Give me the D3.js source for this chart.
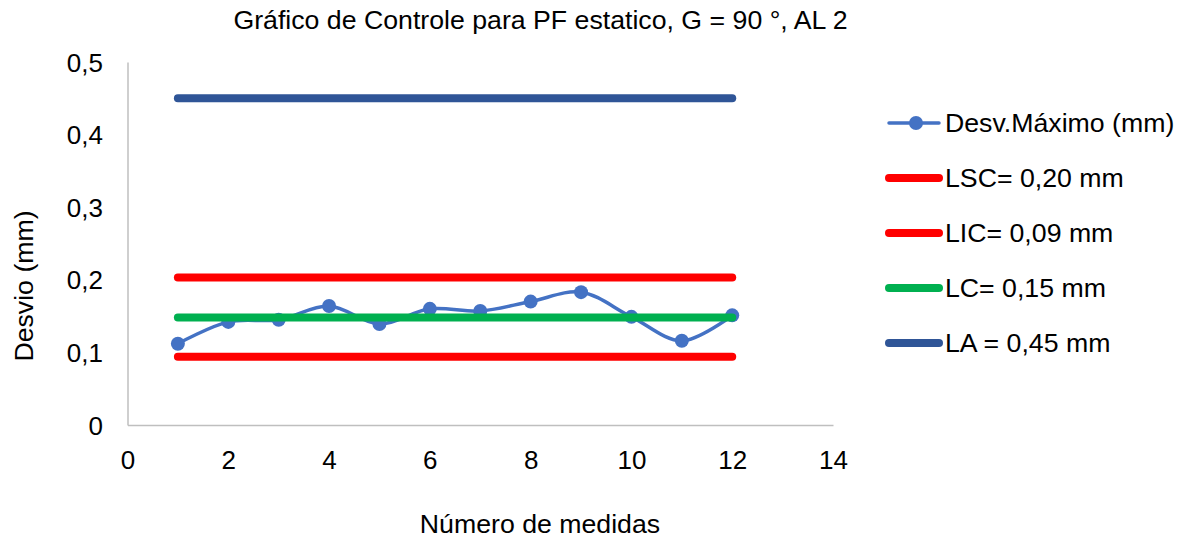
<!DOCTYPE html>
<html>
<head>
<meta charset="utf-8">
<script src="https://cdn.jsdelivr.net/npm/d3@7"></script>
<style>
  html, body { margin: 0; padding: 0; background: #fff; }
  svg { display: block; font-family: "Liberation Sans", Arial, sans-serif; }
</style>
</head>
<body>
<svg id="chart" width="1194" height="540"></svg>
<script>
// ---- data ----
const medidas = [1, 2, 3, 4, 5, 6, 7, 8, 9, 10, 11, 12];
const desvMaximo = [0.112, 0.142, 0.145, 0.164, 0.139, 0.160, 0.157, 0.170, 0.183, 0.149, 0.116, 0.151];
const limitNames = ["LSC= 0,20 mm", "LIC= 0,09 mm", "LC= 0,15 mm", "LA = 0,45 mm"];
const limitValues = [0.203, 0.094, 0.148, 0.45];
const limitColors = ["#FF0000", "#FF0000", "#00B050", "#2F5597"];
const seriesName = "Desv.Máximo (mm)";
const xTicks = [0, 2, 4, 6, 8, 10, 12, 14];
const yTicks = [0, 0.1, 0.2, 0.3, 0.4, 0.5];
const titleText = "Gráfico de Controle para PF estatico, G = 90 °, AL 2";
const xTitle = "Número de medidas";
const yTitle = "Desvio (mm)";

// ---- layout ----
const svg = d3.select("#chart");
const x = d3.scaleLinear().domain([0, 14]).range([127.5, 833]);
const y = d3.scaleLinear().domain([0, 0.5]).range([425, 62]);
const fontSize = 26.7;
const tickSize = 26;
const blue = "#4472C4";

// title
svg.append("text").attr("x", 540.5).attr("y", 29).attr("text-anchor", "middle")
  .attr("font-size", fontSize).attr("fill", "#000").text(titleText);

// axes
const yAxis = d3.axisLeft(y).tickValues(yTicks).tickSize(0)
  .tickFormat(d => d === 0 ? "0" : d3.format(".1f")(d).replace(".", ","));
const gy = svg.append("g").attr("transform", `translate(${x(0)},0)`).call(yAxis);
gy.select(".domain").attr("stroke", "#BFBFBF").attr("stroke-width", 1.5);
gy.selectAll(".tick text").attr("font-size", tickSize).attr("font-family", null)
  .attr("fill", "#000").attr("x", -24.5).attr("dy", "0.35em");

const xAxis = d3.axisBottom(x).tickValues(xTicks).tickSize(0).tickFormat(d3.format("d"));
const gx = svg.append("g").attr("transform", `translate(0,${y(0)})`).call(xAxis);
gx.select(".domain").attr("stroke", "#BFBFBF").attr("stroke-width", 1.5);
gx.selectAll(".tick text").attr("font-size", tickSize).attr("font-family", null)
  .attr("fill", "#000").attr("y", 44).attr("dy", 0);

// axis titles
svg.append("text").attr("x", 540).attr("y", 533).attr("text-anchor", "middle")
  .attr("font-size", fontSize).attr("fill", "#000").text(xTitle);
svg.append("text").attr("transform", "translate(33,286) rotate(-90)")
  .attr("text-anchor", "middle").attr("font-size", fontSize).attr("fill", "#000").text(yTitle);

// data series (smoothed)
const pts = medidas.map((m, i) => [m, desvMaximo[i]]);
const line = d3.line().x(d => x(d[0])).y(d => y(d[1])).curve(d3.curveCatmullRom.alpha(0.5));
svg.append("path").attr("d", line(pts)).attr("fill", "none")
  .attr("stroke", blue).attr("stroke-width", 3.5).attr("stroke-linejoin", "round");
svg.append("g").selectAll("circle").data(pts).join("circle")
  .attr("cx", d => x(d[0])).attr("cy", d => y(d[1])).attr("r", 7).attr("fill", blue);

// limit lines
limitValues.forEach((v, i) => {
  svg.append("line")
    .attr("x1", x(medidas[0])).attr("x2", x(medidas[medidas.length - 1]))
    .attr("y1", y(v)).attr("y2", y(v))
    .attr("stroke", limitColors[i]).attr("stroke-width", 8).attr("stroke-linecap", "round");
});

// legend
const legY = [123, 178, 233, 288, 343];
const lx1 = 889, lx2 = 939, tx = 945;
const lg = svg.append("g");
lg.append("line").attr("x1", lx1).attr("x2", lx2).attr("y1", legY[0]).attr("y2", legY[0])
  .attr("stroke", blue).attr("stroke-width", 3.5).attr("stroke-linecap", "round");
lg.append("circle").attr("cx", (lx1 + lx2) / 2 + 2).attr("cy", legY[0]).attr("r", 7).attr("fill", blue);
lg.append("text").attr("x", tx).attr("y", legY[0]).attr("dy", "0.35em")
  .attr("font-size", fontSize).attr("fill", "#000").text(seriesName);
limitNames.forEach((n, i) => {
  const yy = legY[i + 1];
  lg.append("line").attr("x1", lx1).attr("x2", lx2).attr("y1", yy).attr("y2", yy)
    .attr("stroke", limitColors[i]).attr("stroke-width", 8).attr("stroke-linecap", "round");
  lg.append("text").attr("x", tx).attr("y", yy).attr("dy", "0.35em")
    .attr("font-size", fontSize).attr("fill", "#000").text(n);
});
</script>
</body>
</html>
